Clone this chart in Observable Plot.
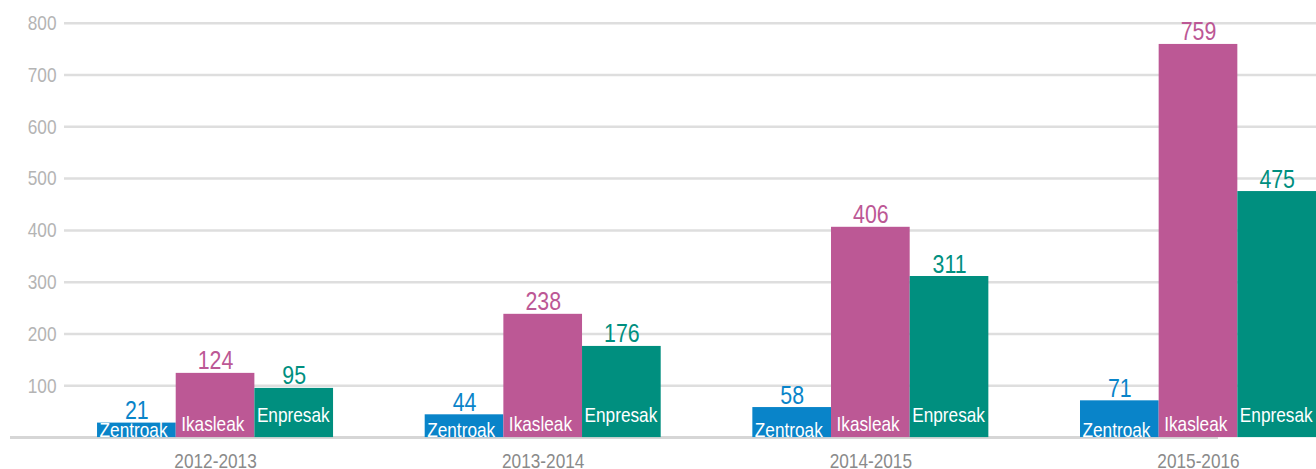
<!DOCTYPE html>
<html>
<head>
<meta charset="utf-8">
<script src="https://cdn.jsdelivr.net/npm/d3@7"></script>
<script src="https://cdn.jsdelivr.net/npm/@observablehq/plot@0.6"></script>
<style>
  html, body { margin: 0; padding: 0; background: #ffffff; }
  #chart svg { display: block; }
</style>
</head>
<body>
<div id="chart"></div>
<script>
// ---- data ----
const years = ["2012-2013", "2013-2014", "2014-2015", "2015-2016"];
const seriesNames = ["Zentroak", "Ikasleak", "Enpresak"];
const zentroak = [21, 44, 58, 71];
const ikasleak = [124, 238, 406, 759];
const enpresak = [95, 176, 311, 475];
const yTicks = [100, 200, 300, 400, 500, 600, 700, 800];
const seriesColors = ["#0984c9", "#bc5895", "#008f7f"];

// ---- table built from the arrays ----
const seriesValues = [zentroak, ikasleak, enpresak];
const rows = [];
years.forEach((year, gi) => {
  seriesNames.forEach((name, si) => {
    rows.push({ year, gi, series: name, si, value: seriesValues[si][gi] });
  });
});

// layout: each bar = 1 unit on a linear x scale, groups spaced by STEP units
const STEP = 4.165;
const barStart = d => d.gi * STEP + d.si;
const MIN_BAR = 28; // the original draws very short bars at a minimum height so the inner label fits
const barTop = d => Math.max(d.value, MIN_BAR);
const FONT = "'Liberation Sans', Arial, sans-serif";
const NARROW_FACTOR = 0.82; // emulate a narrow sans face

const labelOffsets = { Zentroak: { dx: 2, dy: -1 }, Ikasleak: { dx: 5, dy: -6.5 }, Enpresak: { dx: 2, dy: -15.5 } };

const chart = Plot.plot({
  width: 1316,
  height: 469,
  marginTop: 22.7,
  marginBottom: 31.9,
  marginLeft: 64,
  marginRight: 0,
  style: { background: "#ffffff", fontFamily: FONT, overflow: "visible" },
  x: { type: "linear", domain: [-0.42, 3 * STEP + 3], axis: null },
  y: { domain: [0, 800], axis: null },
  color: { domain: seriesNames, range: seriesColors },
  marks: [
    Plot.ruleY(yTicks, { stroke: "#dedede", strokeWidth: 2.5 }),
    Plot.text(yTicks, {
      y: d => d, text: d => String(d), frameAnchor: "left", textAnchor: "end",
      dx: -8, fontSize: 21, fill: "#b4b4b4"
    }),
    Plot.ruleY([0], { stroke: "#d6d6d6", strokeWidth: 3, insetLeft: -54, insetRight: 98 }),
    Plot.rectY(rows, {
      x1: d => barStart(d), x2: d => barStart(d) + 1,
      y1: 0, y2: barTop, fill: "series"
    }),
    Plot.text(rows, {
      x: d => barStart(d) + 0.5, y: barTop, text: d => String(d.value),
      fill: "series", lineAnchor: "bottom", dy: -4, fontSize: 26
    }),
    ...seriesNames.map(name => Plot.text(rows.filter(d => d.series === name), {
      x: d => barStart(d), y: 0, text: "series", textAnchor: "start",
      lineAnchor: "bottom", dx: labelOffsets[name].dx, dy: labelOffsets[name].dy,
      fill: "#ffffff", fontSize: 21
    })),
    Plot.text(years, {
      x: (d, i) => i * STEP + 1.5, y: 0, text: d => d, lineAnchor: "bottom",
      dy: 30.4, fill: "#8a8a8a", fontSize: 21
    })
  ]
});

document.getElementById("chart").appendChild(chart);

// condense all texts horizontally (narrow face look), keeping anchors
d3.select(chart).selectAll("text").each(function () {
  const w = this.getComputedTextLength();
  if (w > 0) {
    this.setAttribute("textLength", (w * NARROW_FACTOR).toFixed(2));
    this.setAttribute("lengthAdjust", "spacingAndGlyphs");
  }
});
</script>
</body>
</html>
